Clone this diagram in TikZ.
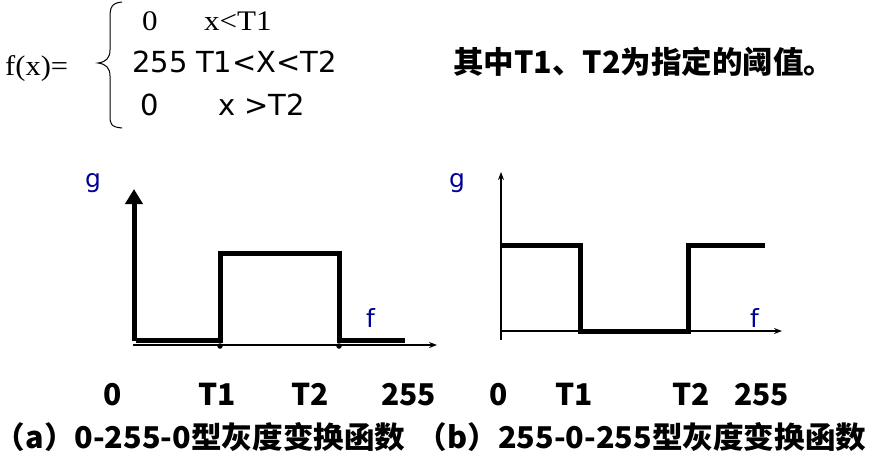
\documentclass[tikz,border=0pt]{standalone}
\usepackage{fontspec}
\setmainfont{Liberation Serif}
\newfontfamily\vfont{DejaVu Sans}
\newfontfamily\cjk{Noto Sans CJK SC}
\usetikzlibrary{arrows.meta}
\definecolor{labblue}{RGB}{0,0,150}
\newcommand{\halfparen}{{\addfontfeature{RawFeature=+halt}（}}
\tikzset{
  sig/.style={line width=5pt, line join=miter, line cap=butt},
  thinax/.style={line width=1.2pt, -{Stealth[length=8pt,width=6pt]}},
  thickax/.style={line width=5pt, -{Triangle[length=15pt,width=17pt]}},
  blackdot/.style={circle, fill=black, inner sep=0pt, minimum size=5.5pt},
  txt/.style={inner sep=0pt, anchor=base west},
  serif/.style={txt, font=\fontsize{27}{30}\selectfont},
  sans/.style={txt, font=\vfont\fontsize{29}{32}\selectfont},
  axlab/.style={txt, text=labblue, font=\vfont\fontsize{25}{30}\selectfont},
  cjkb/.style={txt, font=\cjk\bfseries\fontsize{30.5}{34}\selectfont},
  ticklab/.style={txt, font=\cjk\bfseries\fontsize{30}{32}\selectfont},
  captxt/.style={inner sep=0pt, anchor=west, font=\cjk\bfseries\fontsize{30}{34}\selectfont},
}
\begin{document}
\begin{tikzpicture}[x=1pt,y=-1pt]
\useasboundingbox (0,0) rectangle (874,459);
% formula
\node[serif] (fx) at (5,75) {\scalebox{1.13}[1.05]{f(x)=}};
\draw[line width=1pt] (122,2) .. controls (111,3) and (110,8) .. (110,18) -- (110,50)
  .. controls (110,58) and (106,62) .. (98,63)
  .. controls (106,64) and (110,68) .. (110,76) -- (110,116)
  .. controls (110,124) and (111,127) .. (122,128);
\node[serif] (r1a) at (142,30) {\scalebox{1.15}[1.05]{0}};
\node[serif] (r1b) at (204,30) {\scalebox{1.15}[1.05]{x<T1}};
\node[sans] (r2a) at (132,72) {255};
\node[sans] (r2b) at (196,72) {T1<X<T2};
\node[sans] (r3a) at (140,115) {0};
\node[sans] (r3b) at (218,115) {x >T2};
\node[cjkb] (note) at (453,73) {其中T1、T2为指定的阈值。};
% left chart
\coordinate (la0) at (134,341);
\coordinate (la1) at (134,189);
\draw[thickax] (la0) -- (la1);
\coordinate (lh0) at (133,345);
\coordinate (lh1) at (437,345);
\draw[thinax] (lh0) -- (lh1);
\coordinate (p1) at (136,340);
\coordinate (p2) at (220,340);
\coordinate (p3) at (220,253);
\coordinate (p4) at (339,253);
\coordinate (p5) at (339,340);
\coordinate (p6) at (405,340);
\draw[sig] (p1) -- (p2) -- (p3) -- (p4) -- (p5) -- (p6);
\node[blackdot] (d1) at (220,346) {};
\node[blackdot] (d2) at (339,346) {};
\node[axlab] (lg) at (85,187) {g};
\node[axlab] (lf) at (366,327) {f};
% right chart
\coordinate (ra0) at (501,340);
\coordinate (ra1) at (501,172);
\draw[thinax] (ra0) -- (ra1);
\coordinate (rh0) at (501,331);
\coordinate (rh1) at (782,331);
\draw[thinax] (rh0) -- (rh1);
\coordinate (q1) at (501,245);
\coordinate (q2) at (580,245);
\coordinate (q3) at (580,331);
\coordinate (q4) at (688,331);
\coordinate (q5) at (688,245);
\coordinate (q6) at (765,245);
\draw[sig] (q1) -- (q2) -- (q3) -- (q4) -- (q5) -- (q6);
\node[axlab] (rg) at (449,187) {g};
\node[axlab] (rf) at (750,327) {f};
% tick labels
\node[ticklab] (t1) at (103,405) {0};
\node[ticklab] (t2) at (198,405) {T1};
\node[ticklab] (t3) at (291,405) {T2};
\node[ticklab] (t4) at (381,405) {255};
\node[ticklab] (t5) at (489,405) {0};
\node[ticklab] (t6) at (555,405) {T1};
\node[ticklab] (t7) at (672,405) {T2};
\node[ticklab] (t8) at (734,405) {255};
% captions
\node[captxt] (capa) at (10,437) {\scalebox{1.02}[1]{\halfparen a）0-255-0型灰度变换函数}};
\node[captxt] (capb) at (432,437) {\scalebox{1.02}[1]{\halfparen b）255-0-255型灰度变换函数}};
\end{tikzpicture}
\end{document}
